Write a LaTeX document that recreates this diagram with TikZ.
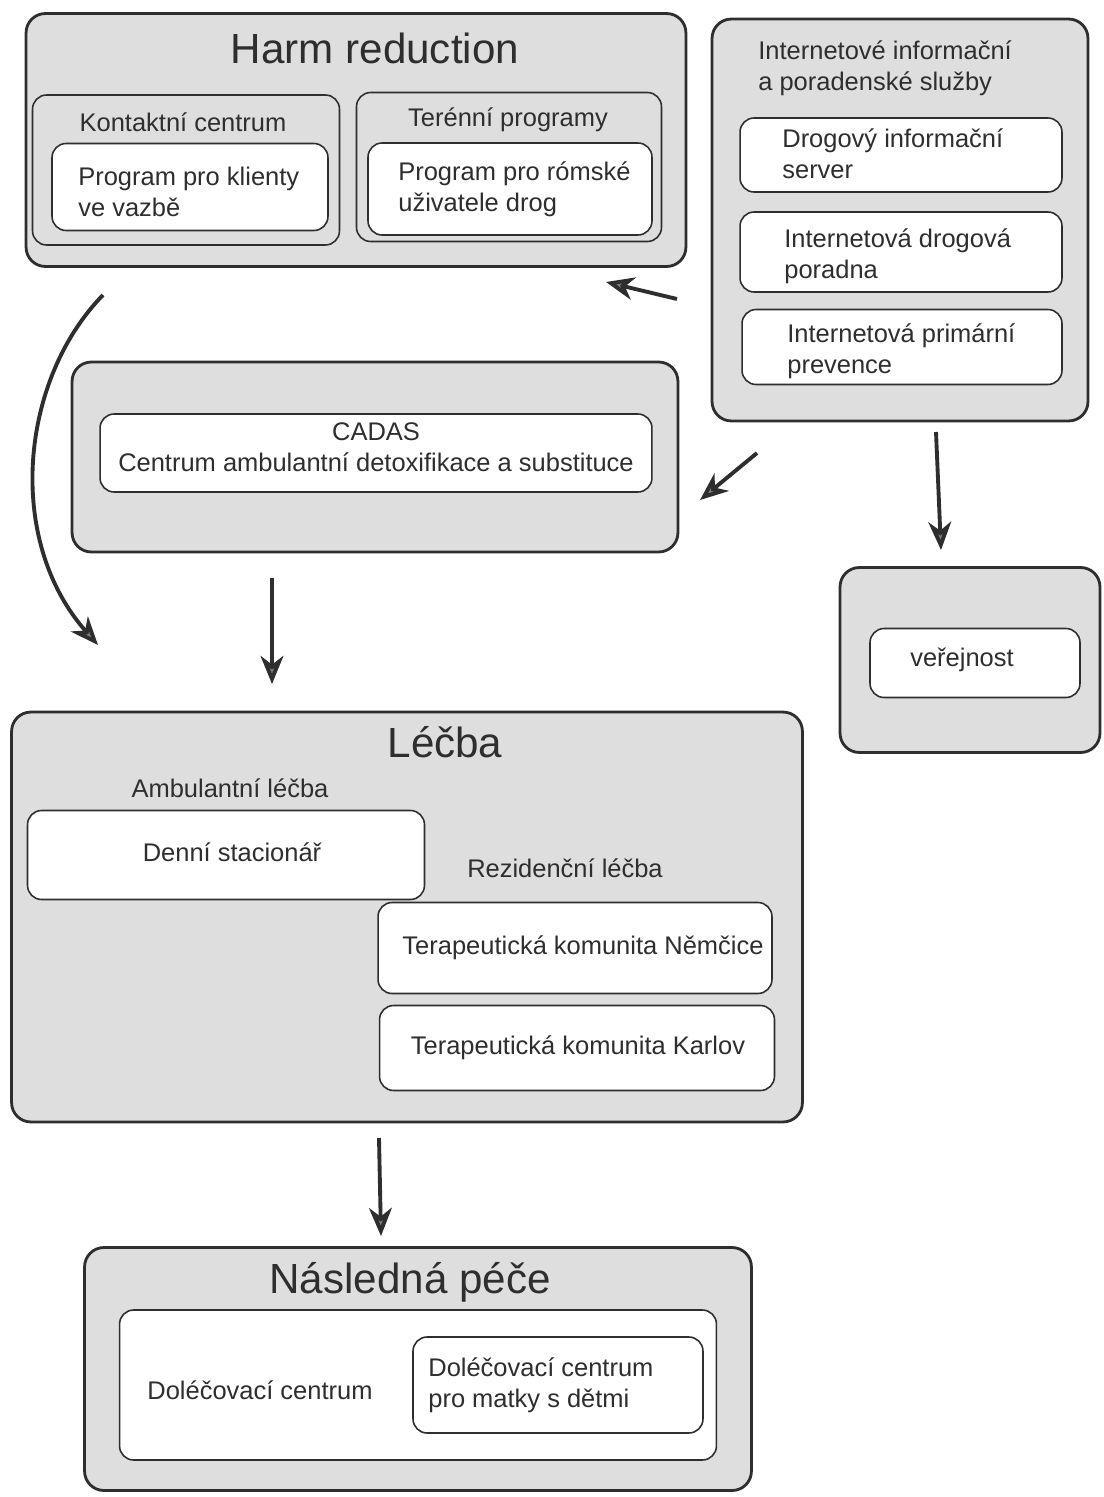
\documentclass[tikz,border=0pt]{standalone}
\usepackage{fontspec}
\setmainfont{Liberation Sans}
\usetikzlibrary{arrows.meta}
\definecolor{halftone}{gray}{0.87}
\definecolor{ink}{gray}{0.18}
\tikzset{
  outerbox/.style={draw=ink, line width=1.6pt, rounded corners=11pt, fill=halftone, inner sep=0pt},
  innerbox/.style={draw=ink, line width=0.9pt, rounded corners=8pt, fill=white, inner sep=0pt},
  title/.style={font=\fontsize{24}{28}\selectfont, text=ink, inner sep=0pt},
  lbl/.style={font=\fontsize{14.5}{17.5}\selectfont, text=ink, inner sep=0pt},
  lbll/.style={lbl, anchor=west, align=left},
  flow/.style={draw=ink, line width=2.2pt, -{Stealth[length=16pt, width=13pt, inset=5pt, fill=gray]}}
}
\begin{document}
\begin{tikzpicture}[x=0.02cm, y=-0.02cm]
\useasboundingbox[fill=white] (0,0) rectangle (1103,1497);

% Harm reduction
\node[outerbox, minimum width=13.2cm, minimum height=5.06cm] (hr) at (356,140) {};
\node[title] (hrt) at (375,48) {Harm reduction};
\node[innerbox, fill=none, minimum width=6.14cm, minimum height=3.0cm] (kc) at (186,170) {};
\node[lbl] (kct) at (183,122) {Kontaktní centrum};
\node[innerbox, minimum width=5.52cm, minimum height=1.74cm] (kcp) at (190,187) {};
\node[lbll] (kcpt) at (78,192) {Program pro klienty\\ve vazbě};
\node[innerbox, fill=none, minimum width=6.1cm, minimum height=2.98cm] (tp) at (509,167) {};
\node[lbl] (tpt) at (508,120) {Terénní programy};
\node[innerbox, minimum width=5.68cm, minimum height=1.84cm] (tpp) at (510,189) {};
\node[lbll] (tppt) at (398,189) {Program pro rómské\\uživatele drog};

% Internet services
\node[outerbox, minimum width=7.52cm, minimum height=8.04cm] (ii) at (900,220) {};
\node[lbll] (iit) at (758,68) {Internetové informační\\a poradenské služby};
\node[innerbox, minimum width=6.44cm, minimum height=1.48cm] (dis) at (901,155) {};
\node[lbll] (dist) at (782,154) {Drogový informační\\server};
\node[innerbox, minimum width=6.44cm, minimum height=1.6cm] (idp) at (901,252) {};
\node[lbll] (idpt) at (784,256) {Internetová drogová\\poradna};
\node[innerbox, minimum width=6.4cm, minimum height=1.5cm] (ipp) at (902,347) {};
\node[lbll] (ippt) at (787,351) {Internetová primární\\prevence};

% CADAS
\node[outerbox, minimum width=12.12cm, minimum height=3.8cm] (cadas) at (375,457) {};
\node[innerbox, minimum width=11.04cm, minimum height=1.56cm] (cadasi) at (376,453) {};
\node[lbl, align=center] (cadast) at (376,447) {CADAS\\Centrum ambulantní detoxifikace a substituce};

% verejnost
\node[outerbox, minimum width=5.2cm, minimum height=3.7cm] (ver) at (970,660) {};
\node[innerbox, minimum width=4.2cm, minimum height=1.38cm] (veri) at (975,663) {};
\node[lbl] (vert) at (962,660) {veřejnost};

% Lecba
\node[outerbox, minimum width=15.82cm, minimum height=8.2cm] (lecba) at (407,917) {};
\node[title] (lecbat) at (445,742) {Léčba};
\node[lbl] (ambt) at (230,788) {Ambulantní léčba};
\node[innerbox, minimum width=7.94cm, minimum height=1.78cm] (ds) at (226,855) {};
\node[lbl] (dst) at (232,852) {Denní stacionář};
\node[lbl] (rezt) at (565,868) {Rezidenční léčba};
\node[innerbox, minimum width=7.88cm, minimum height=1.82cm] (tkn) at (575,948) {};
\node[lbl] (tknt) at (583,948) {Terapeutická komunita Němčice};
\node[innerbox, minimum width=7.9cm, minimum height=1.7cm] (tkk) at (577,1048) {};
\node[lbl] (tkkt) at (578,1048) {Terapeutická komunita Karlov};

% Nasledna pece
\node[outerbox, minimum width=13.34cm, minimum height=4.86cm] (np) at (418,1369) {};
\node[title] (npt) at (410,1282) {Následná péče};
\node[innerbox, minimum width=11.94cm, minimum height=3.0cm] (dc) at (418,1385) {};
\node[lbl] (dct) at (260,1390) {Doléčovací centrum};
\node[innerbox, minimum width=5.8cm, minimum height=1.92cm] (dcm) at (558,1385) {};
\node[lbll] (dcmt) at (428,1385) {Doléčovací centrum\\pro matky s dětmi};

% connectors
\coordinate (a1s) at (677,299);
\coordinate (a1e) at (606,282);
\coordinate (a2s) at (757,453);
\coordinate (a2e) at (700,500);
\coordinate (a3s) at (936,432);
\coordinate (a3e) at (941,550);
\coordinate (a4s) at (103,295);
\coordinate (a4e) at (98,645);
\coordinate (a5s) at (272,578);
\coordinate (a5e) at (272,684);
\coordinate (a6s) at (379,1138);
\coordinate (a6e) at (381,1236);
\draw[flow] (a1s) -- (a1e);
\draw[flow] (a2s) -- (a2e);
\draw[flow] (a3s) -- (a3e);
\draw[flow] (a4s) .. controls (20,380) and (5,540) .. (a4e);
\draw[flow] (a5s) -- (a5e);
\draw[flow] (a6s) -- (a6e);
\end{tikzpicture}
\end{document}
